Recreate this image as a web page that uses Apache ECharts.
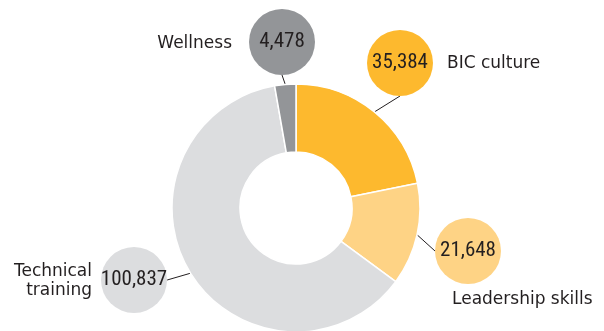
<!DOCTYPE html>
<html>
<head>
<meta charset="utf-8">
<script src="https://cdn.jsdelivr.net/npm/echarts@6/dist/echarts.min.js"></script>
<style>
  html, body { margin: 0; padding: 0; background: #ffffff; }
  #chart { width: 604px; height: 331px; }
</style>
</head>
<body>
<div id="chart"></div>
<script>
// Training hours by programme
const categories = ['BIC culture', 'Leadership skills', 'Technical training', 'Wellness'];
const hours = [35384, 21648, 100837, 4478];
const captions = ['BIC culture', 'Leadership skills', 'Technical\ntraining', 'Wellness'];

const sliceColors = ['#FDB92E', '#FED385', '#DCDDDF', '#939598'];
const inkColor = '#231F20';

// Where each value bubble and caption sits around the ring (pixels)
const bubbleAt = [[400, 63], [468, 251], [134, 280], [282, 42]];
const captionAt = [
  { x: 447, y: 64, align: 'left' },
  { x: 452, y: 300, align: 'left' },
  { x: 92, y: 281, align: 'right' },
  { x: 232, y: 44, align: 'right' }
];

const ringCenter = [296, 208];
const ringRadius = [56, 124];

const valueData = categories.map((name, i) => ({
  name: name,
  value: hours[i],
  itemStyle: { color: sliceColors[i] },
  label: { backgroundColor: sliceColors[i] }
}));

const captionData = categories.map((name, i) => ({
  name: name,
  value: hours[i]
}));

const chart = echarts.init(document.getElementById('chart'), null, { renderer: 'canvas' });

chart.setOption({
  backgroundColor: '#ffffff',
  animation: false,
  series: [
    {
      // the ring, with a round value bubble tied to each slice
      type: 'pie',
      center: ringCenter,
      radius: ringRadius,
      startAngle: 90,
      clockwise: true,
      avoidLabelOverlap: false,
      itemStyle: { borderColor: '#ffffff', borderWidth: 1.5 },
      emphasis: { disabled: true },
      label: {
        show: true,
        position: 'outside',
        formatter: (p) => p.value.toLocaleString('en-US'),
        width: 66,
        height: 66,
        lineHeight: 66,
        overflow: 'none',
        borderRadius: 33,
        align: 'center',
        verticalAlign: 'middle',
        fontFamily: 'Roboto',
        // condensed width for the narrow numerals
        fontWeight: 'condensed',
        fontSize: 21,
        color: inkColor
      },
      labelLine: {
        show: true,
        length: 10,
        length2: 0,
        smooth: false,
        lineStyle: { color: inkColor, width: 1 }
      },
      labelLayout: (params) => ({
        x: bubbleAt[params.dataIndex][0],
        y: bubbleAt[params.dataIndex][1],
        align: 'center',
        verticalAlign: 'middle'
      }),
      data: valueData
    },
    {
      // category captions beside the bubbles
      type: 'pie',
      center: ringCenter,
      radius: ringRadius,
      startAngle: 90,
      clockwise: true,
      silent: true,
      avoidLabelOverlap: false,
      itemStyle: { color: 'rgba(0,0,0,0)' },
      emphasis: { disabled: true },
      label: {
        show: true,
        position: 'outside',
        formatter: (p) => captions[p.dataIndex],
        fontFamily: '"DejaVu Sans", sans-serif',
        fontSize: 17,
        lineHeight: 19,
        color: inkColor
      },
      labelLine: { show: false },
      labelLayout: (params) => {
        const c = captionAt[params.dataIndex];
        return { x: c.x, y: c.y, align: c.align, verticalAlign: 'middle' };
      },
      data: captionData
    }
  ]
});
</script>
</body>
</html>
